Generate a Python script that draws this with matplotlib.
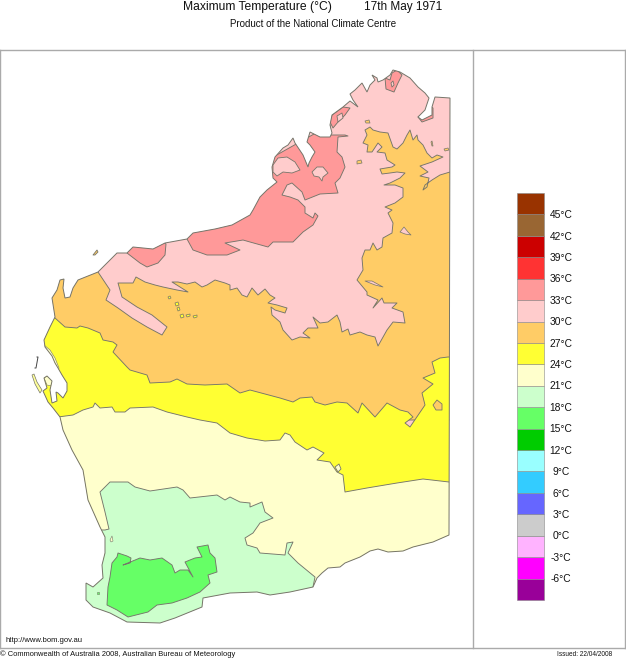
import matplotlib
matplotlib.use("Agg")
import matplotlib.pyplot as plt
from matplotlib.patches import Polygon

plt.rcParams['font.family'] = ['Liberation Sans', 'DejaVu Sans']

# Legend
band_colors = ['#990099', '#FF00FF', '#FFB3FF', '#CCCCCC', '#6666FF', '#33CCFF', '#99FFFF',
               '#00CC00', '#66FF66', '#CCFFCC', '#FFFFCC', '#FFFF33', '#FFCC66', '#FFCCCC',
               '#FF9999', '#FF3333', '#CC0000', '#996633', '#993300']
band_labels = ['-6', '-3', '0', '3', '6', '9', '12', '15', '18', '21', '24', '27', '30', '33', '36', '39', '42', '45']

# Map outlines (x, y in picture pixels)
coast = [(450,98),(435,97),(432,107),(432,115),(422,120),(418,117),(425,110),(429,98),(425,93),(418,87),
 (410,78),(400,72),(393,70),(390,75),(383,80),(378,82),(377,78),(372,75),(375,80),(370,85),(367,92),
 (362,83),(355,90),(350,94),(353,100),(358,107),(350,101),(343,107),(332,115),(330,125),(332,133),
 (330,137),(320,137),(310,132),(307,142),(310,145),(315,152),(312,157),(309,163),(308,167),(303,155),
 (295,143),(293,138),(288,145),(283,148),(275,157),(272,167),(273,178),(277,182),(267,190),(260,197),
 (253,210),(250,215),(232,225),(215,229),(193,233),(187,239),(165,243),(153,249),(133,247),(127,253),
 (117,253),(108,262),(98,272),(78,280),(73,288),(70,297),(65,298),(63,288),(64,279),(60,280),(57,290),
 (52,298),(55,317),(50,327),(44,340),(45,347),(52,356),(55,363),(58,368),(62,375),(67,383),(67,391),
 (63,398),(58,393),(56,392),(57,401),(52,403),(50,390),(52,381),(47,376),(44,378),(47,388),(43,391),
 (48,402),(53,408),(60,417),(63,430),(72,450),(83,470),(88,500),(100,527),(105,537),(105,553),(102,565),
 (103,578),(93,587),(86,583),(86,600),(93,607),(110,613),(127,622),(160,623),(175,618),(202,607),
 (203,598),(230,593),(257,592),(270,595),(290,592),(313,587),(317,578),(322,573),(328,568),(340,567),
 (345,563),(360,557),(370,551),(378,549),(388,552),(403,551),(413,547),(433,542),(449,535)]

orange_zone = [(450,172),(440,175),(432,180),(425,185),(423,190),(427,187),(429,178),(420,176),(428,172),
 (420,166),(432,162),(443,157),(437,155),(432,158),(427,153),(423,145),(418,140),(417,135),(413,140),
 (410,130),(407,135),(403,143),(397,149),(393,147),(388,133),(380,132),(373,130),(370,127),(365,130),
 (367,135),(363,143),(368,145),(367,152),(372,152),(378,143),(382,147),(377,152),(385,153),(387,160),
 (395,165),(392,167),(380,169),(382,174),(390,173),(397,172),(405,173),(400,178),(390,183),(384,185),
 (395,185),(403,188),(403,197),(395,203),(385,207),(392,210),(388,213),(393,223),(392,233),(383,238),
 (382,247),(377,250),(373,243),(370,250),(365,250),(362,258),(363,270),(357,280),(367,292),(367,295),
 (378,300),(373,308),(382,298),(384,303),(397,303),(392,308),(403,312),(405,323),(393,322),(387,330),
 (378,346),(375,337),(367,335),(360,332),(350,335),(348,329),(342,332),(340,322),(337,315),(328,322),
 (320,323),(313,317),(318,328),(308,328),(303,333),(310,338),(300,337),(292,340),(283,330),(280,322),
 (272,315),(271,307),(275,310),(285,313),(287,308),(277,305),(268,303),(272,300),(275,298),(270,295),
 (265,289),(258,295),(252,288),(247,297),(242,295),(237,288),(230,290),(230,285),(225,283),(215,280),
 (207,285),(202,287),(195,282),(187,284),(178,282),(172,282),(188,292),(177,290),(163,287),(155,285),
 (145,282),(136,277),(133,283),(118,283),(122,297),(137,307),(152,315),(167,327),(162,335),(147,327),
 (132,318),(118,308),(106,300),(110,290),(98,272),(85,262),(20,270),(20,420),(460,420),(460,172)]

yellow_zone = [(40,318),(55,318),(65,327),(77,328),(80,326),(88,328),(100,333),(103,340),(113,342),(117,345),
 (113,352),(127,367),(130,370),(147,375),(150,383),(170,382),(177,379),(187,384),(205,385),(227,384),
 (240,393),(250,390),(280,398),(293,402),(300,398),(312,397),(315,402),(325,405),(337,402),(347,403),
 (358,413),(362,403),(375,417),(387,403),(400,410),(408,412),(413,417),(405,423),(410,427),(425,405),
 (422,393),(433,384),(423,378),(435,373),(432,362),(440,358),(448,357),(460,357),(460,560),(20,560),(20,318)]

cream_zone = [(40,417),(58,417),(73,415),(83,410),(93,407),(95,403),(100,408),(112,407),(115,412),(125,412),
 (130,408),(153,407),(167,412),(187,417),(200,420),(217,423),(230,433),(247,438),(265,441),(280,440),
 (285,433),(290,435),(295,442),(307,450),(313,447),(324,453),(317,460),(330,462),(337,472),(343,475),
 (345,492),(367,488),(397,483),(423,479),(449,482),(460,482),(460,610),(20,610),(20,417)]

pale_green_zone = [(105,530),(109,529),(105,512),(100,492),(110,482),(128,482),(135,487),(150,491),(177,487),
 (183,490),(190,498),(217,495),(225,500),(230,497),(240,502),(250,503),(250,507),(262,502),(265,512),
 (273,518),(260,523),(253,533),(245,538),(247,545),(257,548),(260,553),(285,555),(287,543),(293,542),
 (288,553),(298,563),(315,577),(313,587),(313,640),(60,640),(60,530)]

green_zone = [(118,553),(127,556),(131,558),(130,563),(123,565),(140,558),(150,560),(162,558),(172,565),
 (175,573),(180,570),(188,570),(193,577),(185,562),(195,558),(202,557),(197,547),(208,545),(210,553),
 (215,558),(217,572),(208,575),(210,583),(200,592),(187,598),(172,603),(157,605),(148,612),(128,617),
 (117,610),(107,605),(108,587),(110,577),(112,563),(117,557)]

salmon_main = [(250,242),(243,240),(225,243),(240,250),(227,255),(207,255),(193,250),(187,239),(180,215),
 (250,170),(330,125),(331,135),(345,135),(348,136),(338,137),(337,152),(342,157),(345,167),(340,178),
 (335,183),(338,193),(320,194),(305,200),(302,192),(292,183),(287,185),(282,195),(290,197),(298,200),
 (305,207),(305,213),(313,218),(315,213),(318,216),(313,225),(303,232),(293,242),(273,242),(268,247)]
salmon_west = [(127,253),(140,263),(147,267),(158,263),(165,255),(166,244),(150,235),(125,240)]
salmon_north = [(385,78),(390,80),(392,73),(397,70),(402,75),(398,83),(394,92),(386,89)]
salmon_gulf = [(418,117),(426,111),(429,106),(433,108),(433,118),(422,122)]
salmon_coast = [(330,122),(332,115),(343,107),(350,108),(345,115),(338,122),(333,128)]
pink_hole_a = [(273,165),(278,158),(287,157),(295,162),(300,170),(292,173),(283,172),(277,176),(273,172)]
pink_hole_b = [(312,172),(317,167),(323,167),(328,173),(323,177),(322,181),(319,177),(314,176)]
pink_hole_c = [(391,83),(393,81),(394,85),(392,87)]
pink_hole_d = [(337,116),(342,113),(343,118),(338,122)]
pink_patch = [(400,232),(404,227),(408,232),(411,235),(405,234)]
pink_sliver = [(365,281),(372,281),(383,287),(375,285)]

orange_isles = [[(357,161),(361,160),(362,163),(357,164)], [(365,121),(369,120),(370,123),(366,123)],
                [(431,142),(432,146),(433,146),(432,141)], [(444,149),(448,148),(449,150),(445,151)],
                [(93,255),(97,250),(98,252),(95,255)]]
yellow_isles = [[(168,297),(170,296),(171,298),(169,299)], [(175,303),(178,302),(179,305),(176,306)],
                [(177,308),(179,307),(180,310),(178,311)], [(180,315),(183,314),(184,317),(181,318)],
                [(186,315),(190,314),(190,316),(187,317)], [(193,316),(197,315),(197,317),(194,318)]]
orange_in_yellow = [(433,405),(437,400),(442,404),(442,410),(436,410)]
cream_in_yellow = [(335,467),(339,464),(341,469),(338,472)]
yellow_in_orange = [(390,413),(392,412),(392,415),(390,415)]
cream_bay = [(44,345),(50,350),(55,358),(59,368),(58,372),(52,362),(44,350)]
cream_cape = [(44,378),(48,375),(53,381),(52,386),(47,385)]
hartog_island = [(32,375),(34,374),(37,382),(42,390),(40,393),(35,384)]
bernier_island = [(37,357),(38,357),(36,368),(35,368)]
fill_isle_a = [(110,540),(112,536),(113,541),(111,542)]
fill_isle_b = [(97,592),(99,592),(99,594),(97,594)]

# Frame
frame_left, frame_right, frame_split = 0, 625, 473
frame_top, frame_bottom = 50, 648
bar_left, bar_right, bar_top, bar_bottom = 517, 544, 193, 600

LINE = '#75756a'
fig = plt.figure(figsize=(6.26, 6.59), dpi=100)
ax = fig.add_axes([0, 0, 1, 1])
ax.set_xlim(0, 626)
ax.set_ylim(659, 0)
ax.axis('off')

land = Polygon(coast, closed=True, fc='#FFCCCC', ec='none', zorder=1)
ax.add_patch(land)

def zone(points, color, z=2, lw=0.65, clip=True):
    p = Polygon(points, closed=True, fc=color, ec=LINE, lw=lw, zorder=z, joinstyle='round')
    ax.add_patch(p)
    if clip:
        p.set_clip_path(land)

zone(orange_zone, '#FFCC66', 2)
zone(pink_sliver, '#FFCCCC', 2.2, 0.5)
zone(pink_patch, '#FFCCCC', 2.2, 0.5)
for isle in orange_isles[:-1]:
    zone(isle, '#FFCC66', 2.3, 0.5)
for isle in yellow_isles:
    zone(isle, '#FFFF33', 2.3, 0.5)
zone(yellow_zone, '#FFFF33', 3)
zone(orange_in_yellow, '#FFCC66', 3.2, 0.6)
zone(yellow_in_orange, '#FFFF33', 2.4, 0.4)
zone(cream_bay, '#FFFFCC', 3.2, 0.4)
zone(cream_cape, '#FFFFCC', 3.2, 0.4)
zone(cream_zone, '#FFFFCC', 4)
zone(cream_in_yellow, '#FFFFCC', 3.5, 0.6)
zone(pale_green_zone, '#CCFFCC', 5)
zone(fill_isle_a, '#FFFFCC', 5.2, 0.4)
zone(fill_isle_b, '#66FF66', 5.2, 0.4)
zone(green_zone, '#66FF66', 6)
for pts in (salmon_main, salmon_west, salmon_north, salmon_gulf, salmon_coast):
    zone(pts, '#FF9999', 7)
for pts in (pink_hole_a, pink_hole_b, pink_hole_c, pink_hole_d):
    zone(pts, '#FFCCCC', 7.5, 0.6)

# Coast outline and off-shore islands
ax.add_patch(Polygon(coast, closed=True, fc='none', ec=LINE, lw=0.7, zorder=9))
zone(orange_isles[-1], '#FFCC66', 9, 0.6, clip=False)
zone(hartog_island, '#FFFF99', 9, 0.5, clip=False)
ax.plot(*zip(*bernier_island), color='#444444', lw=0.7, zorder=9)

# Frame lines
for y in (frame_top, frame_bottom):
    ax.plot([frame_left, frame_right + 1], [y, y], color='#aaaaaa', lw=1.0, zorder=10)
for x in (frame_left, frame_split, frame_right):
    ax.plot([x, x], [frame_top, frame_bottom], color='#aaaaaa', lw=1.0, zorder=10)

# Colour bar
n = len(band_colors)
step = (bar_bottom - bar_top) / n
for i, c in enumerate(band_colors):
    top = bar_bottom - (i + 1) * step
    ax.bar((bar_left + bar_right) / 2, step, bottom=top, width=bar_right - bar_left,
           color=c, edgecolor='#888888', linewidth=0.4, zorder=3)
for i, lab in enumerate(band_labels):
    y = bar_bottom - (i + 1) * step + 0.7
    ax.text(561, y, lab + '\u00b0C', ha='center', va='center', fontsize=7.4, color='#111111')

# Titles and footers
ax.text(183, 10, 'Maximum Temperature (\u00b0C)', ha='left', va='baseline', fontsize=8.7, color='#111111')
ax.text(364, 10, '17th May 1971', ha='left', va='baseline', fontsize=8.5, color='#111111')
ax.text(313, 24, 'Product of the National Climate Centre', ha='center', va='center', fontsize=7.0, color='#111111')
ax.text(5, 641, 'http://www.bom.gov.au', ha='left', va='center', fontsize=5.5, color='#111111')
ax.text(0.5, 654.5, '\u00a9 Commonwealth of Australia 2008, Australian Bureau of Meteorology', ha='left', va='center',
        fontsize=5.4, color='#111111')
ax.text(612, 654.5, 'Issued: 22/04/2008', ha='right', va='center', fontsize=4.7, color='#111111')

fig.savefig('out.png', dpi=100)
